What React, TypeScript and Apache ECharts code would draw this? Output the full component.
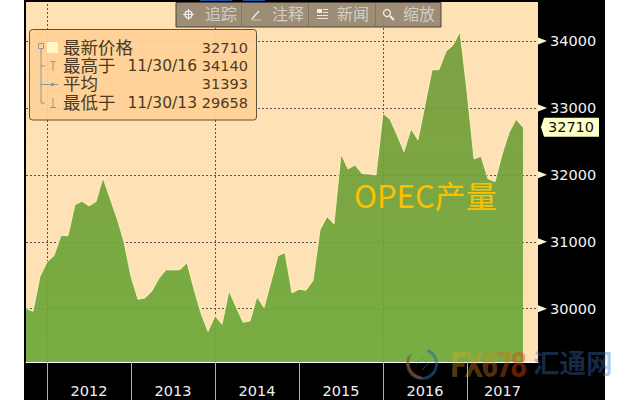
import React, { useEffect, useRef } from "react";
import * as echarts from "echarts";

// Monthly month-end values, Sep 2011 to Aug 2017
const values = [
  30006, 29960, 30480, 30698, 30792, 31095, 31090, 31555, 31605, 31535, 31600, 31955,
  31650, 31350, 31000, 30480, 30140, 30160, 30265, 30455, 30583, 30578, 30583, 30688,
  30290, 29930, 29658, 29895, 29767, 30265, 30030, 29797, 29816, 30180, 30015, 30404,
  30792, 30837, 30235, 30290, 30275, 30420, 31176, 31375, 31266, 32312, 32088, 32148,
  32018, 32013, 31998, 32920, 32830, 32597, 32347, 32686, 32522, 33045, 33568, 33572,
  33846, 33936, 34140, 33244, 32238, 32278, 31940, 31898, 32300, 32630, 32830, 32710,
];
const years = ["2012", "2013", "2014", "2015", "2016", "2017"];
const yearStartIndex = [3, 15, 27, 39, 51, 63];
const griddedYearIndex = [3, 27, 51];
const majorTicks = [30000, 31000, 32000, 33000, 34000];
const allTicks = [29500, 30000, 30500, 31000, 31500, 32000, 32500, 33000, 33500, 34000, 34500];
const lastPrice = 32710;
const xMax = 73.14;
const yMin = 29203;
const yMax = 34583;
const legendRows = [
  { label: "最新价格", date: "", value: "32710" },
  { label: "最高于", date: "11/30/16", value: "34140" },
  { label: "平均", date: "", value: "31393" },
  { label: "最低于", date: "11/30/13", value: "29658" },
];
const toolbarLabels = ["追踪", "注释", "新闻", "缩放"];
const chartTitle = "OPEC产量";

const FONT = '"Noto Sans CJK SC", "Noto Sans", sans-serif';
const NUM = '"DejaVu Sans", sans-serif';
const gridLine = { color: "#5a5248", type: [2, 2] as number[], width: 1 };

function buildGraphic() {
  const els: any[] = [];
  const txt = (x: number, y: number, text: string, fill: string, fontSize: number, extra: any = {}) => ({
    type: "text",
    x,
    y,
    z: 101,
    style: { text, fill, fontSize, fontFamily: FONT, textVerticalAlign: "middle", ...extra },
  });
  const ln = (x1: number, y1: number, x2: number, y2: number, stroke: string, lineWidth = 1) => ({
    type: "line",
    z: 101,
    shape: { x1, y1, x2, y2 },
    style: { stroke, lineWidth },
  });

  // top-edge fragments
  els.push({ type: "rect", z: 100, shape: { x: 200, y: 0, width: 32, height: 1 }, style: { fill: "#1d4fa8" } });
  els.push({ type: "rect", z: 100, shape: { x: 243, y: 0, width: 22, height: 1 }, style: { fill: "#1d4fa8" } });

  // toolbar
  els.push({
    type: "rect",
    z: 100,
    shape: { x: 176, y: 2.5, width: 265, height: 24.5 },
    style: { fill: "rgba(150,135,112,0.93)", stroke: "#4a4238", lineWidth: 1 },
  });
  [241.5, 308.5, 375.5].forEach((x) => els.push(ln(x, 3, x, 27, "#85775f")));
  const toolColor = "#cfcfc8";
  [205, 272, 337, 403].forEach((x, i) => els.push(txt(x, 13, toolbarLabels[i], toolColor, 16)));
  els.push({ type: "circle", z: 101, shape: { cx: 188.5, cy: 14.5, r: 3.5 }, style: { fill: "none", stroke: "#eee", lineWidth: 1.5 } });
  els.push(ln(183, 14.5, 194, 14.5, "#eee"), ln(188.5, 9, 188.5, 20, "#eee"));
  els.push(ln(252, 19, 259, 11, "#e8e8e0", 1.5), ln(251, 20, 261, 20, "#c8c8c0"));
  els.push({ type: "rect", z: 101, shape: { x: 317, y: 9, width: 5, height: 4 }, style: { fill: "#eee" } });
  [9, 12, 15, 18].forEach((y) => els.push(ln(y < 14 ? 323 : 317, y + 0.5, 328, y + 0.5, "#e8e8e0")));
  els.push({ type: "circle", z: 101, shape: { cx: 387, cy: 13, r: 3.5 }, style: { fill: "none", stroke: "#eee", lineWidth: 1.3 } });
  els.push(ln(390, 16, 394, 20, "#eee", 2));

  // legend box
  els.push({
    type: "rect",
    z: 100,
    shape: { x: 29.5, y: 29.5, width: 227, height: 90.5, r: 3 },
    style: { fill: "rgba(254,209,150,0.93)", stroke: "#5c5040", lineWidth: 1 },
  });
  const ink = "#4c3a22";
  const rowY = [46.5, 64.5, 82.5, 101];
  legendRows.forEach((r, i) => {
    els.push(txt(63, rowY[i], r.label, ink, 17.5));
    if (r.date) els.push(txt(197, rowY[i] + 1.5, r.date, ink, 15.5, { textAlign: "right", fontFamily: NUM }));
    els.push(txt(248, rowY[i] + 1.5, r.value, ink, 14.5, { textAlign: "right", fontFamily: NUM }));
  });
  const tree = "#8d9a9a";
  els.push({ type: "rect", z: 101, shape: { x: 38.5, y: 43.5, width: 5, height: 5 }, style: { fill: "none", stroke: tree } });
  els.push({ type: "rect", z: 101, shape: { x: 47, y: 42, width: 11, height: 11 }, style: { fill: "#fff8c4" } });
  els.push(ln(41, 49, 41, 103, tree), ln(41, 66, 45, 66, tree), ln(41, 84.5, 47, 84.5, tree), ln(41, 103, 45, 103, tree));
  els.push(ln(53, 62, 53, 71, tree), ln(50.5, 61.5, 55.5, 61.5, tree));
  els.push(ln(47, 84.5, 58, 84.5, tree), { type: "circle", z: 101, shape: { cx: 52.5, cy: 84.5, r: 1.8 }, style: { fill: tree } });
  els.push(ln(53, 98, 53, 107, tree), ln(50, 107.5, 56, 107.5, tree));

  // title
  els.push(txt(354, 194, chartTitle, "#fdc100", 31));

  // watermark
  els.push({ type: "arc", z: 101, shape: { cx: 422, cy: 364, r: 14.5, startAngle: -1.2, endAngle: 2.2 }, style: { stroke: "rgba(30,110,170,0.55)", fill: "none", lineWidth: 3 } });
  els.push({ type: "arc", z: 101, shape: { cx: 422, cy: 364, r: 14.5, startAngle: 2.2, endAngle: 3.9 }, style: { stroke: "rgba(40,130,150,0.45)", fill: "none", lineWidth: 3 } });
  els.push({ type: "arc", z: 101, shape: { cx: 424, cy: 362, r: 16, startAngle: 1.7, endAngle: 3.5 }, style: { stroke: "rgba(190,70,30,0.6)", fill: "none", lineWidth: 2.5 } });
  els.push({ type: "polyline", z: 101, shape: { points: [[416, 364], [422, 358], [428, 364], [422, 370]] }, style: { stroke: "rgba(60,140,130,0.5)", fill: "none", lineWidth: 1 } });
  ["F", "X", "6", "7", "8"].forEach((ch, i) => {
    const tints = [
      "rgba(230,170,40,0.36)",
      "rgba(228,150,35,0.36)",
      "rgba(226,125,28,0.38)",
      "rgba(222,100,20,0.4)",
      "rgba(220,70,10,0.44)",
    ];
    els.push({
      type: "text",
      x: [450, 464, 481, 496, 510][i],
      y: 365,
      z: 101,
      scaleY: 1.35,
      style: { text: ch, fontSize: 25, fontWeight: "bold", fontFamily: NUM, textVerticalAlign: "middle", fill: tints[i] },
    });
  });
  els.push({
    type: "text",
    x: 533,
    y: 361,
    z: 101,
    style: { text: "汇通网", fontSize: 26.5, fontWeight: "bold", fontFamily: FONT, textVerticalAlign: "middle", fill: "rgba(60,110,185,0.38)" },
  });
  return els;
}

export default function App() {
  const ref = useRef<HTMLDivElement>(null);
  useEffect(() => {
    document.body.style.margin = "0";
    const chart = echarts.init(ref.current!, undefined, { renderer: "svg" });
    const yearLabelPos = yearStartIndex.map((s, i) =>
      i + 1 < yearStartIndex.length ? (s + yearStartIndex[i + 1]) / 2 : (s + xMax) / 2
    );
    const xy = (v: number, i: number) => [i, v];
    chart.setOption({
      animation: false,
      backgroundColor: "transparent",
      textStyle: { fontFamily: NUM },
      grid: { show: true, left: 26, right: 92, top: 2, bottom: 38, backgroundColor: "#ffe1b6", borderWidth: 0 },
      xAxis: [
        {
          type: "value",
          min: 0,
          max: xMax,
          splitLine: { show: false },
          axisLine: { show: true, onZero: false, lineStyle: { color: "#ffffff", width: 1 } },
          axisTick: { show: true, customValues: yearStartIndex, length: 38, lineStyle: { color: "#b0b0b0", width: 1 } },
          axisLabel: { show: false },
        },
        {
          type: "value",
          position: "bottom",
          min: 0,
          max: xMax,
          splitLine: { show: false },
          axisLine: { show: false },
          axisTick: { show: false },
          axisLabel: {
            show: true,
            customValues: yearLabelPos,
            color: "#f0f0f0",
            fontSize: 14.5,
            fontFamily: NUM,
            margin: 21,
            formatter: (v: number) => years[yearLabelPos.indexOf(v)] ?? "",
          },
        },
      ],
      yAxis: {
        type: "value",
        position: "right",
        min: yMin,
        max: yMax,
        splitLine: { show: false },
        axisLine: { show: false },
        axisTick: { show: true, customValues: allTicks, length: 3, lineStyle: { color: "#e8e0c8" } },
        axisLabel: {
          show: true,
          customValues: majorTicks,
          color: "#f2f2f2",
          fontSize: 14.5,
          fontFamily: NUM,
          margin: 12,
          formatter: (v: number) => String(v),
        },
      },
      series: [
        {
          type: "line",
          name: "grid",
          z: 1,
          silent: true,
          showSymbol: false,
          data: values.map(xy),
          lineStyle: { opacity: 0 },
          markLine: {
            z: 1,
            silent: true,
            symbol: "none",
            label: { show: false },
            lineStyle: gridLine,
            data: [...majorTicks.map((v) => ({ yAxis: v })), ...griddedYearIndex.map((i) => ({ xAxis: i }))],
          },
        },
        {
          type: "line",
          name: "OPEC产量",
          z: 2,
          showSymbol: false,
          data: values.map(xy),
          lineStyle: { color: "rgba(255,250,190,0.8)", width: 1 },
          areaStyle: {
            origin: "start",
            opacity: 1,
            color: new echarts.graphic.LinearGradient(0, 0, 0, 1, [
              { offset: 0, color: "rgba(115,155,58,0.92)" },
              { offset: 1, color: "rgba(108,169,56,0.92)" },
            ]),
          },
        },
        {
          type: "scatter",
          name: "majorMarks",
          z: 3,
          clip: false,
          silent: true,
          data: majorTicks.map((v) => [xMax, v]),
          symbol: "path://M0 0L9 3.5L0 7Z",
          symbolSize: [9, 7],
          symbolOffset: [4.5, 0],
          itemStyle: { color: "#fff3cf", opacity: 1 },
        },
        {
          type: "scatter",
          name: "lastPrice",
          z: 4,
          clip: false,
          silent: true,
          data: [[xMax, lastPrice]],
          symbol: "path://M0 9.5L3 0H58V19H3Z",
          symbolSize: [58, 19],
          symbolOffset: [32, 0],
          itemStyle: { color: "#ffffc8", opacity: 1 },
          label: {
            show: true,
            position: "inside",
            offset: [1, 0],
            color: "#111",
            fontSize: 14.5,
            fontFamily: NUM,
            formatter: () => String(lastPrice),
          },
        },
      ],
      graphic: { elements: buildGraphic() },
    });
    return () => chart.dispose();
  }, []);
  return (
    <div style={{ position: "absolute", left: 0, top: 0, width: 630, height: 400, background: "#fff", overflow: "hidden" }}>
      <div style={{ position: "absolute", left: 24, top: 0, width: 581, height: 400, background: "#000" }} />
      <div ref={ref} style={{ position: "absolute", left: 0, top: 0, width: 630, height: 400 }} />
    </div>
  );
}
